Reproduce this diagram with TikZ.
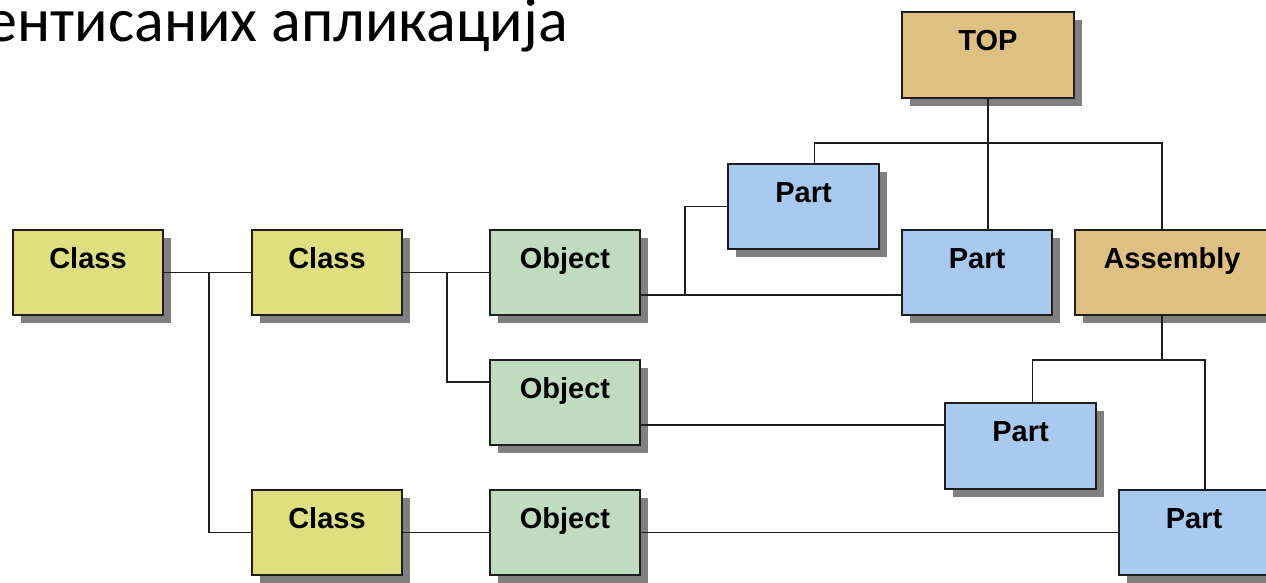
\documentclass[tikz,border=0pt]{standalone}
\usepackage{fontspec}
\setmainfont{Liberation Sans}
\newfontfamily\titlefont{Carlito}
\usetikzlibrary{calc,shadows}

\definecolor{classfill}{RGB}{224,223,128}
\definecolor{objfill}{RGB}{192,220,192}
\definecolor{partfill}{RGB}{168,202,238}
\definecolor{asmfill}{RGB}{222,192,130}
\definecolor{shadowgray}{RGB}{128,128,128}
\definecolor{edgecol}{RGB}{30,30,30}

\tikzset{
  box/.style={draw=edgecol, line width=1.6pt, rectangle, anchor=north west,
    outer sep=0pt, inner sep=0pt, minimum width=150pt, minimum height=85pt,
    text height=21pt, text depth=30pt,
    font=\fontsize{29}{31}\selectfont\bfseries,
    drop shadow={shadow xshift=8pt, shadow yshift=-8pt, fill=shadowgray, opacity=1, draw=none}},
  classbox/.style={box, fill=classfill},
  objbox/.style={box, fill=objfill},
  partbox/.style={box, fill=partfill},
  asmbox/.style={box, fill=asmfill},
  link/.style={draw=edgecol, line width=1.5pt}
}

\begin{document}
\begin{tikzpicture}[x=1pt, y=-1pt]
\useasboundingbox (0,0) rectangle (1266,583);
\clip (0,0) rectangle (1266,583);

% heading line
\node[anchor=base east, inner sep=0pt, font=\titlefont\fontsize{62}{74}\selectfont] (title) at (568,42) {ентисаних апликација};

% classes and objects
\node[classbox] (c1) at (13,230) {Class};
\node[classbox] (c2) at (252,230) {Class};
\node[classbox] (c3) at (252,490) {Class};
\node[objbox] (o1) at (490,230) {Object};
\node[objbox] (o2) at (490,360) {Object};
\node[objbox] (o3) at (490,490) {Object};

% part structure
\node[asmbox, minimum width=172pt, minimum height=86pt] (top) at (902,12) {TOP};
\node[partbox, minimum width=151pt] (p1) at (728,164) {Part};
\node[partbox] (p2) at (902,230) {Part};
\node[asmbox, minimum width=194pt] (asm) at (1075,230) {Assembly};
\node[partbox, minimum width=151pt, minimum height=86pt] (p3) at (945,403) {Part};
\node[partbox] (p4) at (1119,490) {Part};

% class hierarchy
\coordinate (cj) at ($(c1.east)+(46,0)$);
\draw[link] (c1.east) -- (c2.west);
\draw[link] (cj) |- (c3.west);
\coordinate (oj) at ($(c2.east)+(45,0)$);
\draw[link] (c2.east) -- (o1.west);
\draw[link] (oj) |- ($(o2.north west)+(0,22)$);
\draw[link] (c3.east) -- (o3.west);

% objects to parts
\coordinate (o1r) at ($(o1.south east)+(0,-20)$);
\draw[link] (o1r) -- (o1r -| p2.west);
\coordinate (pj) at ($(o1r)+(45,0)$);
\draw[link] (pj) |- (p1.west);
\coordinate (o2r) at ($(o2.south east)+(0,-20)$);
\draw[link] (o2r) -- (o2r -| p3.west);
\draw[link] (o3.east) -- (p4.west);

% assembly tree
\coordinate (tj) at ($(top.south)+(0,45)$);
\draw[link] (top.south) -- (top.south |- p2.north);
\draw[link] ($(p1.north)+(11,0)$) |- (tj) -| ($(asm.north)+(-10,0)$);
\coordinate (aj) at ($(asm.south)+(-10,45)$);
\draw[link] ($(asm.south)+(-10,0)$) -- (aj);
\draw[link] ($(p3.north)+(12,0)$) |- (aj) -| ($(p4.north)+(11,0)$);
\end{tikzpicture}
\end{document}
